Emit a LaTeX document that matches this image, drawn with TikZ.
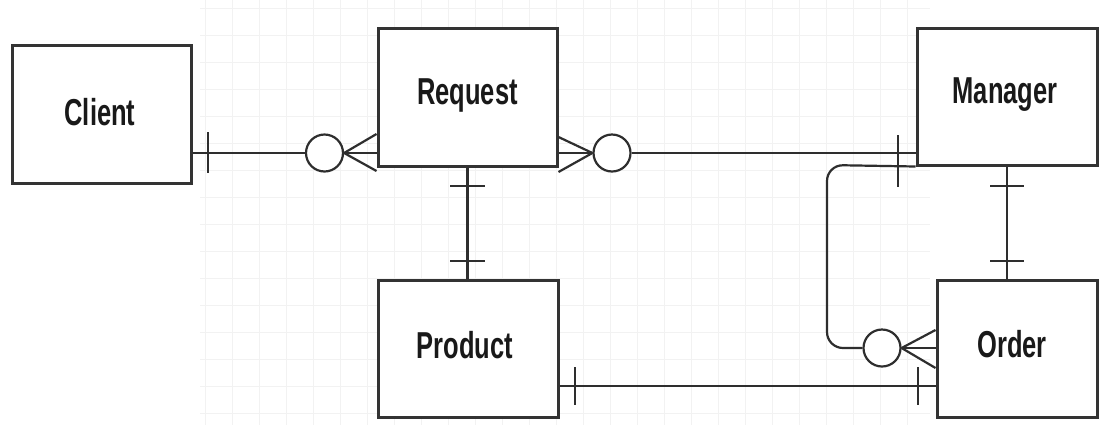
\documentclass[tikz,border=0pt]{standalone}
\usepackage{fontspec}
\setmainfont{Liberation Sans}
\usepackage{graphicx}
\begin{document}
\begin{tikzpicture}[x=1pt,y=-1pt,
  box/.style={draw=black!80, line width=3pt, fill=white, rectangle, inner sep=0pt},
  conn/.style={draw=black!82, line width=2.2pt},
  ring/.style={circle, draw=black!82, line width=2.2pt, fill=white, minimum size=37pt, inner sep=0pt},
  lbl/.style={font=\fontsize{37.5}{40}\selectfont\bfseries, text=black!90, inner sep=0pt, anchor=base},
  gridline/.style={draw=black!5, line width=0.7pt}
]
\useasboundingbox (0,0) rectangle (1105,432);
\fill[white] (0,0) rectangle (1105,432);
\foreach \gx in {205,232,...,925} \draw[gridline] (\gx,0) -- (\gx,425);
\foreach \gy in {8,35,...,425} \draw[gridline] (200,\gy) -- (930,\gy);

% entities
\node[box, minimum width=179pt, minimum height=138pt] (client) at (101.5,114) {};
\node[box, minimum width=179pt, minimum height=138pt] (request) at (467.5,97) {};
\node[box, minimum width=180pt, minimum height=137pt] (manager) at (1007,96.5) {};
\node[box, minimum width=180pt, minimum height=137pt] (product) at (468,348.5) {};
\node[box, minimum width=160pt, minimum height=137pt] (order) at (1017,348.5) {};

\node[lbl] (tclient) at (100,125) {\scalebox{0.68}[1]{Client}};
\node[lbl] (trequest) at (467.5,104.5) {\scalebox{0.68}[1]{Request}};
\node[lbl] (tmanager) at (1005,103.5) {\scalebox{0.68}[1]{Manager}};
\node[lbl] (tproduct) at (465,358) {\scalebox{0.68}[1]{Product}};
\node[lbl] (torder) at (1012,357) {\scalebox{0.68}[1]{Order}};

% Client -- Request
\node[ring] (c1) at (324.5,153) {};
\draw[conn] (client.east |- 0,153) -- (c1.west);
\draw[conn] (208,132) -- (208,173);
\draw[conn] (c1.east) -- (request.west |- 0,134);
\draw[conn] (c1.east) -- (request.west |- 0,153);
\draw[conn] (c1.east) -- (request.west |- 0,171);

% Request -- Manager
\node[ring] (c2) at (612,153) {};
\draw[conn] (request.east |- 0,137) -- (c2.west);
\draw[conn] (request.east |- 0,153) -- (c2.west);
\draw[conn] (request.east |- 0,172) -- (c2.west);
\draw[conn] (c2.east) -- (manager.west |- 0,153);
\draw[conn] (898,135) -- (898,187);

% Request -- Product
\draw[conn] (request.south) -- (request.south |- product.north);
\draw[conn] (450,186) -- (485,186);
\draw[conn] (450,261) -- (485,261);

% Manager -- Order
\draw[conn] (manager.south) -- (manager.south |- order.north);
\draw[conn] (990,186) -- (1024,186);
\draw[conn] (990,261) -- (1024,261);

% Manager loop -- Order (many)
\node[ring] (c3) at (882,348) {};
\draw[conn, rounded corners=16pt] (manager.south west) -- (827,165) -- (827,348) -- (c3.west);
\draw[conn] (c3.east) -- (order.west |- 0,330);
\draw[conn] (c3.east) -- (order.west |- 0,348);
\draw[conn] (c3.east) -- (order.west |- 0,368);

% Product -- Order
\draw[conn] (product.east |- 0,386) -- (order.west |- 0,386);
\draw[conn] (575,367) -- (575,405);
\draw[conn] (918,367) -- (918,405);
\end{tikzpicture}
\end{document}
